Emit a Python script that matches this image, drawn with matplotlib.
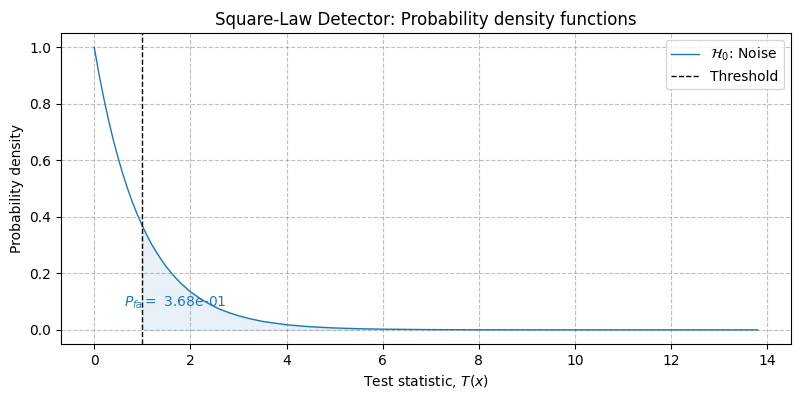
import matplotlib.pyplot as plt
import numpy as np

# Values (noise pdf)
x_vals = [0.0, 0.1, 0.2, 0.3, 0.4, 0.5, 0.6, 0.7, 0.8, 0.9, 1.0, 1.1, 1.2, 1.3, 1.4, 1.5,
          1.6, 1.7, 1.8, 1.9, 2.0, 2.2, 2.4, 2.6, 2.8, 3.0, 3.25, 3.5, 3.75, 4.0, 4.5, 5.0,
          5.5, 6.0, 7.0, 8.0, 10.0, 13.8]
pdf_vals = [1.0, 0.905, 0.819, 0.741, 0.670, 0.607, 0.549, 0.497, 0.449, 0.407, 0.368, 0.333,
            0.301, 0.273, 0.247, 0.223, 0.202, 0.183, 0.165, 0.150, 0.135, 0.111, 0.091,
            0.074, 0.061, 0.050, 0.039, 0.030, 0.024, 0.018, 0.011, 0.0067, 0.0041, 0.0025,
            0.0009, 0.0003, 0.00005, 0.000001]
threshold = 1.0
pfa_label = r"$P_{fa} =$ 3.68e-01"

x = np.array(x_vals)
y = np.array(pdf_vals)

fig, ax = plt.subplots(figsize=(8, 4), dpi=100)
ax.plot(x, y, color='C0', lw=1, label=r'$\mathcal{H}_0$: Noise')
ax.axvline(threshold, color='k', ls='--', lw=1, label='Threshold')
mask = x >= threshold
ax.fill_between(x[mask], y[mask], 0, color='C0', alpha=0.1)
ax.text(0.63, 0.095, pfa_label, color='C0', fontsize=10, ha='left', va='center')

ax.set_title('Square-Law Detector: Probability density functions')
ax.set_xlabel(r'Test statistic, $T(x)$')
ax.set_ylabel('Probability density')
ax.grid(True, ls='--', color='gray', alpha=0.5)
ax.legend(loc='upper right')
fig.subplots_adjust(left=0.07625, right=0.98875, top=0.9175, bottom=0.14)
fig.savefig('out.png')
